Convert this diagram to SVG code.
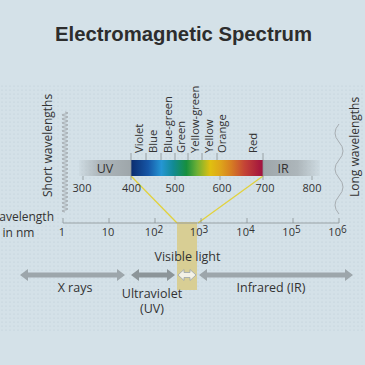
<svg xmlns="http://www.w3.org/2000/svg" width="365" height="365" viewBox="0 0 365 365">
<defs>
<pattern id="dots" width="4" height="4" patternUnits="userSpaceOnUse"><circle cx="2" cy="2" r="0.6" fill="#bccad3"/></pattern>
<linearGradient id="spec" x1="0" x2="1" y1="0" y2="0">
<stop offset="0" stop-color="#0b2c6e"/>
<stop offset="0.13" stop-color="#1656a6"/>
<stop offset="0.23" stop-color="#2596d4"/>
<stop offset="0.32" stop-color="#128a94"/>
<stop offset="0.42" stop-color="#168f3e"/>
<stop offset="0.5" stop-color="#6db035"/>
<stop offset="0.6" stop-color="#e0c010"/>
<stop offset="0.68" stop-color="#dea41a"/>
<stop offset="0.76" stop-color="#d67d22"/>
<stop offset="0.86" stop-color="#c44436"/>
<stop offset="1" stop-color="#a0103f"/>
</linearGradient>
<linearGradient id="uvg" x1="0" x2="1" y1="0" y2="0">
<stop offset="0" stop-color="#a3abaf" stop-opacity="0.1"/>
<stop offset="0.4" stop-color="#a3abaf" stop-opacity="0.8"/>
<stop offset="1" stop-color="#9ea6aa" stop-opacity="1"/>
</linearGradient>
<linearGradient id="irg" x1="0" x2="1" y1="0" y2="0">
<stop offset="0" stop-color="#9ea6aa" stop-opacity="1"/>
<stop offset="0.6" stop-color="#a3abaf" stop-opacity="0.8"/>
<stop offset="1" stop-color="#a3abaf" stop-opacity="0.1"/>
</linearGradient>
<style>
text{font-family:"Open Sans","Noto Sans","Liberation Sans",sans-serif;fill:#333}
.title{font-family:"Liberation Sans",Arial,sans-serif;font-weight:bold;font-size:20.3px;fill:#2d2d2d}
.n{font-size:11px;text-anchor:middle}
.c{font-size:11.2px}
.lb{font-size:12.5px;text-anchor:middle}
.side{font-size:12px}
.tick{stroke:#8a9296;stroke-width:0.8;fill:none}
.wave{stroke:#9aa0a3;stroke-width:0.8;fill:none}
.yl{stroke:#e2d23c;stroke-width:1.3;fill:none}
.arr{fill:#9da6ab}
</style>
</defs>
<rect width="365" height="365" fill="#d4e1e8"/>
<rect x="0" y="84" width="365" height="248" fill="url(#dots)"/>
<g id="title"><text class="title" x="183.5" y="41" text-anchor="middle">Electromagnetic Spectrum</text></g>

<g id="visible-strip"><rect x="177" y="222" width="20" height="68" fill="#d8ce94"/></g>

<g id="connectors">
<line class="yl" x1="131" y1="176" x2="177" y2="223"/>
<line class="yl" x1="263" y1="176" x2="198" y2="223"/>
</g>

<g id="short-wave">
<path class="wave" d="M65,112 q6,1 0,2 t0,2 t0,2 t0,2 t0,2 t0,2 t0,2 t0,2 t0,2 t0,2 t0,2 t0,2 t0,2 t0,2 t0,2 t0,2 t0,2 t0,2 t0,2 t0,2 t0,2 t0,2 t0,2 t0,2 t0,2 t0,2 t0,2 t0,2 t0,2 t0,2 t0,2 t0,2 t0,2 t0,2 t0,2 t0,2 t0,2 t0,2 t0,2 t0,2 t0,2 t0,2 t0,2 t0,2 t0,2 t0,2 t0,2 t0,2 t0,2 t0,2"/>
<text class="side" transform="translate(52,197) rotate(-90)">Short wavelengths</text>
</g>
<g id="long-wave">
<path class="wave" stroke="#7d8386" d="M339,124 q-8,9 0,18 t0,18 t0,18 t0,18 t0,18"/>
<text class="side" transform="translate(359,197) rotate(-90)">Long wavelengths</text>
</g>

<g id="spectrum-bar">
<rect x="79" y="160" width="52" height="16" fill="url(#uvg)"/>
<rect x="263" y="160" width="57" height="16" fill="url(#irg)"/>
<rect x="131" y="160" width="132" height="16" fill="url(#spec)"/>
<text x="105" y="173" class="lb">UV</text>
<text x="283" y="173" class="lb">IR</text>
<path class="tick" d="M83,176v4 M131,153v27 M175,176v4 M220,176v4 M263,153v27 M312,176v4 M146,153v7 M161,153v7 M175,153v7 M188,153v7 M202,153v7 M217,153v7"/>
<text class="n" x="82" y="192">300</text>
<text class="n" x="131.5" y="192">400</text>
<text class="n" x="175" y="192">500</text>
<text class="n" x="222" y="192">600</text>
<text class="n" x="265" y="192">700</text>
<text class="n" x="312" y="192">800</text>
</g>

<g id="color-labels">
<text class="c" transform="translate(143,153) rotate(-90)">Violet</text>
<text class="c" transform="translate(157,153) rotate(-90)">Blue</text>
<text class="c" transform="translate(172,153) rotate(-90)">Blue-green</text>
<text class="c" transform="translate(185,153) rotate(-90)">Green</text>
<text class="c" transform="translate(199,153) rotate(-90)">Yellow-green</text>
<text class="c" transform="translate(213,153) rotate(-90)">Yellow</text>
<text class="c" transform="translate(226,153) rotate(-90)">Orange</text>
<text class="c" transform="translate(257,153) rotate(-90)">Red</text>
</g>

<g id="log-axis">
<line x1="63" y1="223" x2="339" y2="223" stroke="#8a9296" stroke-width="0.8"/>
<path class="tick" d="M63,218v5 M109,218v5 M155,218v5 M201,218v5 M247,218v5 M293,218v5 M339,218v5"/>
<text class="n" x="62" y="236">1</text>
<text class="n" x="108" y="236">10</text>
<text class="n" x="154" y="236">10<tspan dy="-3" font-size="10">2</tspan></text>
<text class="n" x="199" y="236">10<tspan dy="-3" font-size="10">3</tspan></text>
<text class="n" x="245.5" y="236">10<tspan dy="-3" font-size="10">4</tspan></text>
<text class="n" x="291.5" y="236">10<tspan dy="-3" font-size="10">5</tspan></text>
<text class="n" x="337.5" y="236">10<tspan dy="-3" font-size="10">6</tspan></text>
<text x="54" y="221" font-size="12" text-anchor="end">Wavelength</text>
<text x="18.5" y="237" font-size="12" text-anchor="middle">in nm</text>
</g>

<g id="xrays">
<path class="arr" d="M20,275 L28,269 L28,272.5 L117,272.5 L117,269 L125,275 L117,281 L117,277.5 L28,277.5 L28,281 Z"/>
<text class="lb" x="75" y="292">X rays</text>
</g>
<g id="ultraviolet">
<path d="M131,275 L139,269 L139,272.5 L167,272.5 L167,269 L175,275 L167,281 L167,277.5 L139,277.5 L139,281 Z" fill="#8c9599"/>
<text class="lb" x="152" y="297.5">Ultraviolet</text>
<text class="lb" x="152" y="313">(UV)</text>
</g>
<g id="visible">
<path d="M178,275 L184,269.5 L184,272.5 L190,272.5 L190,269.5 L196,275 L190,280.5 L190,277.5 L184,277.5 L184,280.5 Z" fill="#f4f2e6" stroke="#9da6ab" stroke-width="0.8"/>
<text class="lb" x="187.5" y="261">Visible light</text>
</g>
<g id="infrared">
<path class="arr" d="M199,275 L207,269 L207,272.5 L345,272.5 L345,269 L353,275 L345,281 L345,277.5 L207,277.5 L207,281 Z"/>
<text class="lb" x="271" y="292">Infrared (IR)</text>
</g>
</svg>
